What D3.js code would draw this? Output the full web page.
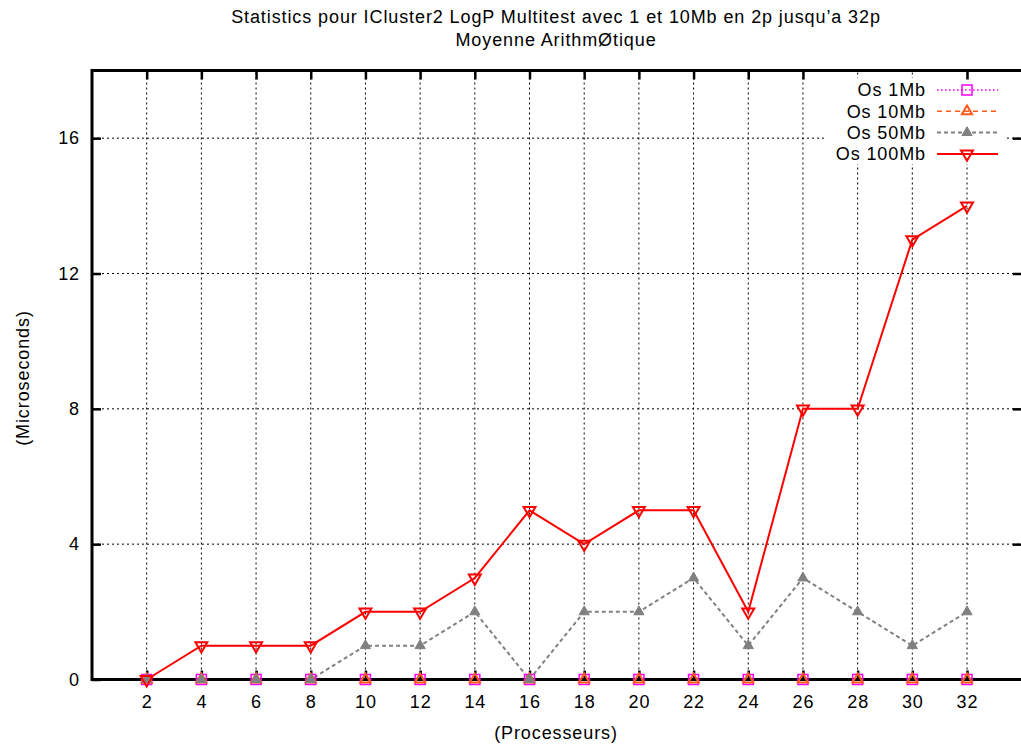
<!DOCTYPE html>
<html><head><meta charset="utf-8">
<script src="https://cdn.jsdelivr.net/npm/d3@7"></script>
<style>
body{margin:0;background:#fff}
svg{display:block}
text{font-family:"Liberation Sans",Arial,Helvetica,sans-serif;fill:#000;letter-spacing:0.9px}
</style>
</head><body>
<svg id="chart" width="1021" height="747"></svg>
<script>
// Number of processors (x axis)
const processors = [2, 4, 6, 8, 10, 12, 14, 16, 18, 20, 22, 24, 26, 28, 30, 32];
// Os overhead in microseconds, per message size
const os1Mb   = [0, 0, 0, 0, 0, 0, 0, 0, 0, 0, 0, 0, 0, 0, 0, 0];
const os10Mb  = [0, 0, 0, 0, 0, 0, 0, 0, 0, 0, 0, 0, 0, 0, 0, 0];
const os50Mb  = [0, 0, 0, 0, 1, 1, 2, 0, 2, 2, 3, 1, 3, 2, 1, 2];
const os100Mb = [0, 1, 1, 1, 2, 2, 3, 5, 4, 5, 5, 2, 8, 8, 13, 14];
const seriesNames = ["Os 1Mb", "Os 10Mb", "Os 50Mb", "Os 100Mb"];
const yTickValues = [0, 4, 8, 12, 16];
const titleLines = ["Statistics pour ICluster2 LogP Multitest avec 1 et 10Mb en 2p jusqu\u2019a 32p",
                    "Moyenne Arithm\u00D8tique"];
const xLabel = "(Processeurs)";
const yLabel = "(Microseconds)";

const svg = d3.select("#chart");
const L = 92, R = 1021.7, T = 70.5, B = 679.5;
const x = d3.scaleLinear().domain([0, 34]).range([L, R]);
const y = d3.scaleLinear().domain([0, 18]).range([B, T]);
const FS = 18;

// Grid lines
const grid = svg.append("g").attr("stroke", "#000").attr("stroke-width", 1).attr("stroke-dasharray", "2,3");
grid.selectAll("line.v").data(processors).enter().append("line")
  .attr("x1", d => x(d)).attr("x2", d => x(d)).attr("y1", B).attr("y2", T);
grid.selectAll("line.h").data(yTickValues.filter(v => v > 0)).enter().append("line")
  .attr("x1", L).attr("x2", R).attr("y1", d => y(d)).attr("y2", d => y(d));

// Series definitions
const series = [
  {name: seriesNames[0], values: os1Mb, color: "#ff00ff", dash: "1.5,2.5", width: 1.3, symbol: d3.symbolSquare, size: 100, fill: "none", rot: 0, sw: 1.5},
  {name: seriesNames[1], values: os10Mb, color: "#ff5a1a", dash: "5,4", width: 1.5, symbol: d3.symbolTriangle, size: 45, fill: "none", rot: 0, sw: 2},
  {name: seriesNames[2], values: os50Mb, color: "#808080", dash: "4,3", width: 2, symbol: d3.symbolTriangle, size: 45, fill: "#808080", rot: 0, sw: 1},
  {name: seriesNames[3], values: os100Mb, color: "#ff0000", dash: null, width: 2, symbol: d3.symbolTriangle, size: 62, fill: "none", rot: 180, sw: 2}
];

const line = d3.line().x(d => x(d[0])).y(d => y(d[1]));

// Legend background (clears the grid underneath)
const legX = 926, legY0 = 90, legDy = 21.3;
svg.append("rect").attr("x", 826).attr("y", 78).attr("width", 180).attr("height", 86).attr("fill", "#fff");

// Lines
series.forEach(s => {
  svg.append("path")
    .datum(processors.map((p, i) => [p, s.values[i]]))
    .attr("d", line).attr("fill", "none")
    .attr("stroke", s.color).attr("stroke-width", s.width)
    .attr("stroke-dasharray", s.dash);
});

// Border
svg.append("path")
  .attr("d", `M${R},${T}H${L}V${B}H${R}`)
  .attr("fill", "none").attr("stroke", "#000").attr("stroke-width", 3);

// Axes
const xAxis = d3.axisBottom(x).tickValues(processors).tickSizeInner(-9).tickSizeOuter(0).tickPadding(15.5);
const gx = svg.append("g").attr("transform", `translate(0,${B})`).call(xAxis);
const yAxis = d3.axisLeft(y).tickValues(yTickValues).tickSizeInner(-9).tickSizeOuter(0).tickPadding(12);
const gy = svg.append("g").attr("transform", `translate(${L},0)`).call(yAxis);
// Mirrored ticks on top and right
const gx2 = svg.append("g").attr("transform", `translate(0,${T})`)
  .call(d3.axisTop(x).tickValues(processors).tickSizeInner(-9).tickSizeOuter(0).tickFormat(""));
const gy2 = svg.append("g").attr("transform", `translate(${R},0)`)
  .call(d3.axisRight(y).tickValues(yTickValues.filter(v => v > 0)).tickSizeInner(-9).tickSizeOuter(0).tickFormat(""));
[gx, gy, gx2, gy2].forEach(g => {
  g.select(".domain").remove();
  g.selectAll(".tick line").attr("stroke", "#000").attr("stroke-width", 2.5);
  g.selectAll(".tick text").attr("font-size", FS).attr("font-family", null).attr("fill", "#000");
});
gx2.selectAll(".tick").filter(d => d >= 28 && d <= 30).remove();

// Markers
series.forEach(s => {
  svg.append("g").selectAll("path").data(processors.map((p, i) => [p, s.values[i]])).enter().append("path")
    .attr("transform", d => `translate(${x(d[0])},${y(d[1])}) rotate(${s.rot})`)
    .attr("d", d3.symbol().type(s.symbol).size(s.size))
    .attr("fill", s.fill).attr("stroke", s.color).attr("stroke-width", s.sw);
});

// Legend entries
series.forEach((s, i) => {
  const cy = legY0 + i * legDy;
  svg.append("text").attr("x", legX).attr("y", cy).attr("dy", "0.36em")
    .attr("text-anchor", "end").attr("font-size", FS).text(s.name);
  svg.append("line").attr("x1", 937).attr("x2", 998).attr("y1", cy).attr("y2", cy)
    .attr("stroke", s.color).attr("stroke-width", s.width).attr("stroke-dasharray", s.dash);
  svg.append("path").attr("transform", `translate(967,${cy}) rotate(${s.rot})`)
    .attr("d", d3.symbol().type(s.symbol).size(s.size))
    .attr("fill", s.fill).attr("stroke", s.color).attr("stroke-width", s.sw);
});

// Titles and axis labels
svg.append("text").attr("x", 556).attr("y", 23).attr("text-anchor", "middle").attr("font-size", FS).text(titleLines[0]);
svg.append("text").attr("x", 556).attr("y", 46).attr("text-anchor", "middle").attr("font-size", FS).text(titleLines[1]);
svg.append("text").attr("x", 556).attr("y", 739).attr("text-anchor", "middle").attr("font-size", FS).text(xLabel);
svg.append("text").attr("transform", "translate(28.5,378) rotate(-90)").attr("text-anchor", "middle").attr("font-size", FS).text(yLabel);
</script>
</body></html>
